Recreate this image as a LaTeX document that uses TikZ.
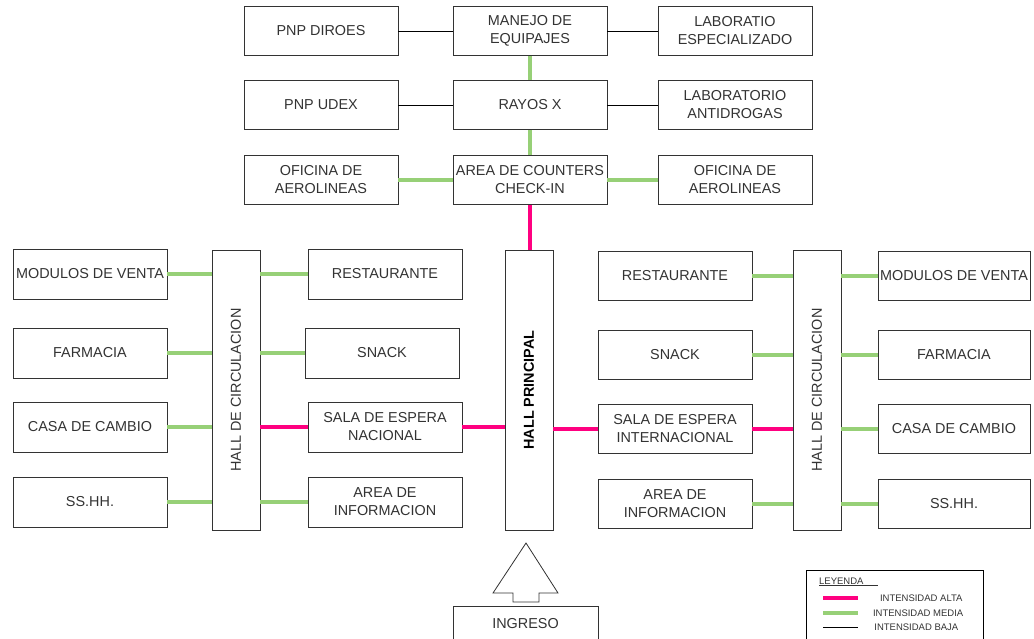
\documentclass[tikz,border=0pt]{standalone}
\usepackage{fontspec}
\setmainfont{Liberation Sans}
\usetikzlibrary{positioning}
\definecolor{miRosa}{RGB}{255, 0, 128}
\definecolor{miVerde}{RGB}{151, 208, 119}
\definecolor{miGris}{RGB}{51, 51, 51}

\begin{document}
\begin{tikzpicture}[
  x=1pt, y=-1pt,
  every node/.style={align=center, text=miGris, inner sep=1pt, font=\fontsize{14.4}{18}\selectfont},
  caja/.style={draw=miGris, fill=white, line width=0.9pt, minimum width=154pt, minimum height=49pt},
  hall/.style={draw=miGris, fill=white, line width=0.9pt, minimum width=48pt, minimum height=280pt},
  alta/.style={miRosa, line width=4pt},
  media/.style={miVerde, line width=4pt},
  baja/.style={black, line width=0.8pt},
  leyenda/.style={font=\fontsize{9.5}{11}\selectfont},
]
\useasboundingbox (0,0) rectangle (1034,638);

% Control column (top)
\node[caja] (diroes) at (321,31) {PNP DIROES};
\node[caja] (equipajes) at (530,31) {MANEJO DE\\EQUIPAJES};
\node[caja] (labesp) at (735,31) {LABORATIO\\ESPECIALIZADO};
\node[caja] (udex) at (321,105) {PNP UDEX};
\node[caja] (rayos) at (530,105) {RAYOS X};
\node[caja] (labanti) at (735,105) {LABORATORIO\\ANTIDROGAS};
\node[caja] (aeroI) at (321,180) {OFICINA DE\\AEROLINEAS};
\node[caja] (counters) at (530,180) {AREA DE COUNTERS\\CHECK-IN};
\node[caja] (aeroD) at (735,180) {OFICINA DE\\AEROLINEAS};

% Halls
\node[hall] (principal) at (529,390) {};
\node[rotate=90, font=\fontsize{14.4}{18}\selectfont\bfseries, text=black] at (principal.center) {HALL PRINCIPAL};
\node[hall] (hallI) at (236,390) {};
\node[rotate=90] at (hallI.center) {HALL DE CIRCULACION};
\node[hall] (hallD) at (817,390) {};
\node[rotate=90] at (hallD.center) {HALL DE CIRCULACION};

% Left wing
\node[caja, minimum height=50pt] (modI) at (90,274) {MODULOS DE VENTA};
\node[caja, minimum height=50pt] (farmI) at (90,353) {FARMACIA};
\node[caja, minimum height=50pt] (casaI) at (90,427) {CASA DE CAMBIO};
\node[caja, minimum height=50pt] (sshhI) at (90,502) {SS.HH.};
\node[caja, minimum height=50pt] (restI) at (385,274) {RESTAURANTE};
\node[caja, minimum height=50pt] (snackI) at (382,353) {SNACK};
\node[caja, minimum height=50pt] (nacional) at (385,427) {SALA DE ESPERA\\NACIONAL};
\node[caja, minimum height=50pt] (infoI) at (385,502) {AREA DE\\INFORMACION};

% Right wing
\node[caja] (restD) at (675,276) {RESTAURANTE};
\node[caja] (snackD) at (675,355) {SNACK};
\node[caja] (internacional) at (675,429) {SALA DE ESPERA\\INTERNACIONAL};
\node[caja] (infoD) at (675,504) {AREA DE\\INFORMACION};
\node[caja, minimum width=152pt] (modD) at (954,276) {MODULOS DE VENTA};
\node[caja, minimum width=152pt] (farmD) at (954,355) {FARMACIA};
\node[caja, minimum width=152pt] (casaD) at (954,429) {CASA DE CAMBIO};
\node[caja, minimum width=152pt] (sshhD) at (954,504) {SS.HH.};

% Entrance
\node[caja, minimum width=145pt, minimum height=36pt] (ingreso) at (525.5,624) {INGRESO};
\draw[miGris, line width=0.8pt, fill=white] (526,543) -- (558,593) -- (539,593) -- (539,602)
  -- (513,602) -- (513,593) -- (493,593) -- cycle;

% Top connections
\draw[baja] (diroes) -- (equipajes);
\draw[baja] (equipajes) -- (labesp);
\draw[baja] (udex) -- (rayos);
\draw[baja] (rayos) -- (labanti);
\draw[media] (aeroI) -- (counters);
\draw[media] (counters) -- (aeroD);
\draw[media] (equipajes) -- (rayos);
\draw[media] (rayos) -- (counters);
\draw[alta] (counters.south) -- (counters.south |- principal.north);

% Left wing connections
\draw[media] (modI.east) -- (modI.east -| hallI.west);
\draw[media] (farmI.east) -- (farmI.east -| hallI.west);
\draw[media] (casaI.east) -- (casaI.east -| hallI.west);
\draw[media] (sshhI.east) -- (sshhI.east -| hallI.west);
\draw[media] (restI.west) -- (restI.west -| hallI.east);
\draw[media] (snackI.west) -- (snackI.west -| hallI.east);
\draw[alta] (nacional.west) -- (nacional.west -| hallI.east);
\draw[media] (infoI.west) -- (infoI.west -| hallI.east);
\draw[alta] (nacional.east) -- (nacional.east -| principal.west);

% Right wing connections
\draw[alta] (internacional.west) -- (internacional.west -| principal.east);
\draw[media] (restD.east) -- (restD.east -| hallD.west);
\draw[media] (snackD.east) -- (snackD.east -| hallD.west);
\draw[alta] (internacional.east) -- (internacional.east -| hallD.west);
\draw[media] (infoD.east) -- (infoD.east -| hallD.west);
\draw[media] (modD.west) -- (modD.west -| hallD.east);
\draw[media] (farmD.west) -- (farmD.west -| hallD.east);
\draw[media] (casaD.west) -- (casaD.west -| hallD.east);
\draw[media] (sshhD.west) -- (sshhD.west -| hallD.east);

% Legend
\node[draw=black, line width=1pt, minimum width=177pt, minimum height=80pt, anchor=north west] (ley) at (806,570) {};
\node[leyenda, anchor=west] (leyT) at (818,582) {\underline{LEYENDA\hspace*{14pt}}};
\coordinate (l1) at (823,598);
\coordinate (l2) at (823,613);
\coordinate (l3) at (823,627);
\draw[alta] (l1) -- ++(35,0) node[leyenda, right=19pt] {INTENSIDAD ALTA};
\draw[media] (l2) -- ++(35,0) node[leyenda, right=12pt] {INTENSIDAD MEDIA};
\draw[baja] (l3) -- ++(35,0) node[leyenda, right=15pt] {INTENSIDAD BAJA};
\end{tikzpicture}
\end{document}
